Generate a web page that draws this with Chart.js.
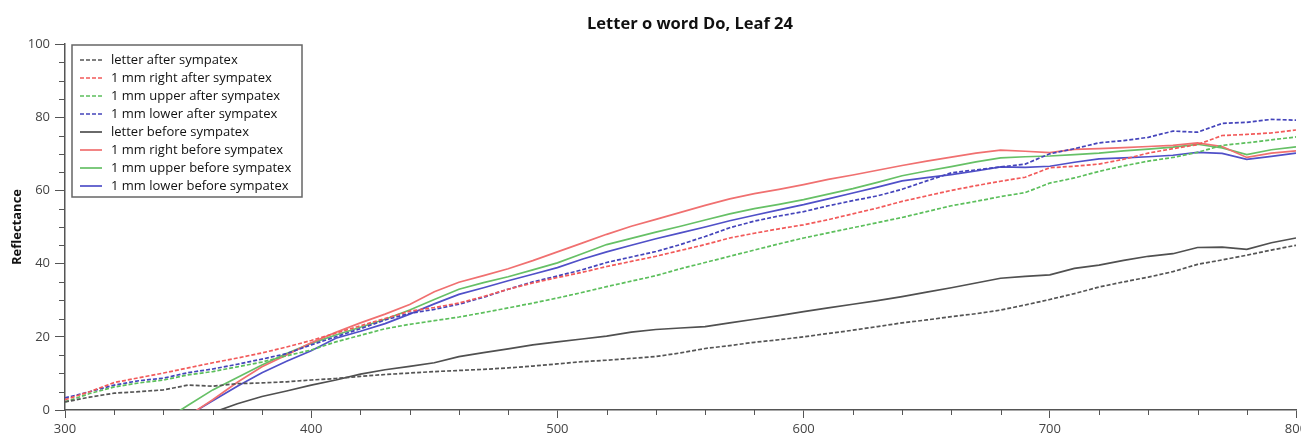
<!DOCTYPE html>
<html>
<head>
<meta charset="utf-8">
<script src="https://cdn.jsdelivr.net/npm/chart.js@4.4.0/dist/chart.umd.min.js"></script>
<style>
html, body { margin: 0; padding: 0; background: #fff; overflow: hidden; }
#caixa { position: relative; width: 1301px; height: 437px; overflow: hidden; }
#grafico { position: absolute; left: 0; top: 0; }
#titulo { position: absolute; top: 12px; left: 690px; transform: translateX(-50%);
  font: bold 16.5px/22px "Open Sans", sans-serif; color: #111; white-space: nowrap; }
</style>
</head>
<body>
<div id="caixa">
  <canvas id="grafico" width="1313" height="437"></canvas>
  <div id="titulo">Letter o word Do, Leaf 24</div>
</div>
<script>
// wavelength (nm)
var comprimento = [300,310,320,330,340,350,360,370,380,390,400,410,420,430,440,450,460,470,480,490,
  500,510,520,530,540,550,560,570,580,590,600,610,620,630,640,650,660,670,680,690,
  700,710,720,730,740,750,760,770,780,790,800];

var letraDepois = [2.2,3.5,4.6,5.0,5.5,6.8,6.5,7.2,7.4,7.7,8.2,8.6,9.2,9.7,10.1,10.5,10.8,11.1,11.5,12.0,
  12.6,13.2,13.6,14.1,14.6,15.6,16.8,17.6,18.5,19.2,20.0,20.9,21.8,22.8,23.8,24.6,25.5,26.3,27.3,28.7,
  30.2,31.8,33.6,35.0,36.3,37.8,39.8,41.0,42.3,43.7,45.0];
var direitaDepois = [2.8,5.0,7.5,8.8,10.1,11.5,12.9,14.2,15.6,17.2,19.0,21.0,23.0,25.0,27.0,28.0,29.2,31.0,33.0,34.7,
  36.2,37.6,39.2,40.6,42.0,43.6,45.2,47.0,48.3,49.5,50.6,52.0,53.6,55.2,57.0,58.5,60.0,61.3,62.5,63.6,
  66.2,66.6,67.2,68.5,70.2,71.4,72.5,75.0,75.3,75.7,76.5];
var acimaDepois = [2.2,4.5,6.3,7.4,8.2,9.6,10.5,11.8,13.1,14.8,16.4,18.6,20.4,22.2,23.4,24.4,25.4,26.6,27.9,29.2,
  30.6,32.1,33.7,35.2,36.7,38.6,40.3,42.0,43.7,45.4,47.0,48.4,49.8,51.2,52.6,54.2,55.8,57.0,58.3,59.4,
  62.0,63.4,65.2,66.7,68.0,69.0,70.4,72.3,73.0,73.8,74.6];
var abaixoDepois = [3.3,5.0,6.8,8.0,8.7,10.2,11.2,12.5,13.9,15.4,17.8,20.0,22.2,24.6,26.4,27.5,28.9,30.8,33.0,35.0,
  36.6,38.3,40.3,41.8,43.3,45.2,47.4,49.8,51.6,53.0,54.2,55.8,57.2,58.5,60.3,62.6,64.8,65.6,66.4,67.2,
  70.0,71.4,73.0,73.6,74.5,76.2,75.9,78.3,78.6,79.4,79.2];

var letraAntes = [null,null,null,null,null,-3.0,-0.7,1.7,3.7,5.2,6.8,8.2,9.8,11.0,11.9,12.9,14.6,15.7,16.7,17.8,
  18.6,19.4,20.2,21.3,22.0,22.4,22.8,23.8,24.8,25.8,26.9,27.9,28.9,29.9,31.0,32.2,33.4,34.7,36.0,36.5,
  36.9,38.7,39.6,40.9,42.0,42.7,44.4,44.5,43.9,45.7,47.0];
var direitaAntes = [null,null,null,null,-6.0,-1.6,2.8,7.6,11.8,15.0,18.4,21.2,23.8,26.2,28.8,32.3,34.9,36.7,38.6,40.8,
  43.2,45.6,48.0,50.2,52.1,54.0,55.9,57.7,59.1,60.3,61.6,63.0,64.2,65.5,66.8,68.0,69.1,70.2,71.0,70.7,
  70.3,71.2,71.4,71.7,72.0,72.3,73.0,72.0,69.0,70.2,70.8];
var acimaAntes = [null,null,null,null,-3.0,1.3,5.5,8.9,12.3,15.4,18.2,20.5,22.6,24.8,27.3,30.2,33.0,34.8,36.4,38.3,
  40.2,42.7,45.2,46.9,48.6,50.2,51.9,53.6,55.0,56.2,57.5,59.0,60.5,62.2,64.0,65.3,66.5,67.8,68.9,69.2,
  69.4,69.8,70.2,70.8,71.3,71.8,72.6,71.6,69.8,71.1,71.9];
var abaixoAntes = [null,null,null,null,-5.5,-1.5,2.5,6.5,10.2,13.3,16.2,19.6,21.5,23.6,26.2,29.0,31.6,33.4,35.3,37.1,
  38.9,41.2,43.2,45.0,46.8,48.4,50.0,51.7,53.2,54.7,56.1,57.7,59.3,60.9,62.6,63.5,64.3,65.3,66.4,66.3,
  66.6,67.7,68.6,68.9,69.2,69.6,70.4,70.1,68.5,69.3,70.2];

var rotulos = ["letter after sympatex","1 mm right after sympatex","1 mm upper after sympatex","1 mm lower after sympatex",
  "letter before sympatex","1 mm right before sympatex","1 mm upper before sympatex","1 mm lower before sympatex"];

function pontos(valores) {
  return comprimento.map(function(w, i) { return { x: w, y: valores[i] }; });
}

function serie(nome, valores, cor, tracejado) {
  return {
    label: nome,
    data: pontos(valores),
    borderColor: cor,
    borderWidth: 1.7,
    borderDash: tracejado ? [4, 2] : [],
    pointRadius: 0,
    fill: false,
    tension: 0
  };
}

// caixa da legenda, desenhada a mao no canto de cima
var legenda = {
  id: 'legenda',
  afterDatasetsDraw: function(chart) {
    var ctx = chart.ctx;
    var x0 = 72, y0 = 45, larg = 230, alt = 152;
    ctx.save();
    ctx.fillStyle = '#fff';
    ctx.fillRect(x0, y0, larg, alt);
    ctx.strokeStyle = '#666';
    ctx.lineWidth = 1.5;
    ctx.setLineDash([]);
    ctx.strokeRect(x0, y0, larg, alt);
    ctx.font = '13px "Open Sans", sans-serif';
    ctx.textBaseline = 'middle';
    chart.data.datasets.forEach(function(ds, i) {
      var y = y0 + 15 + i * 18;
      ctx.strokeStyle = ds.borderColor;
      ctx.lineWidth = ds.borderWidth;
      ctx.setLineDash(ds.borderDash);
      ctx.beginPath();
      ctx.moveTo(80, y);
      ctx.lineTo(102, y);
      ctx.stroke();
      ctx.setLineDash([]);
      ctx.fillStyle = '#111';
      ctx.fillText(ds.label, 111, y);
    });
    ctx.restore();
  }
};

// tracinhos menores nos eixos
var marcas = {
  id: 'marcas',
  afterDraw: function(chart) {
    var ctx = chart.ctx, xs = chart.scales.x, ys = chart.scales.y;
    ctx.save();
    ctx.strokeStyle = '#555';
    ctx.lineWidth = 1;
    ctx.beginPath();
    for (var v = 5; v < 100; v += 5) {
      if (v % 20 == 0) continue;
      var py = Math.round(ys.getPixelForValue(v)) + 0.5;
      ctx.moveTo(ys.right - 6, py);
      ctx.lineTo(ys.right, py);
    }
    for (var w = 320; w < 800; w += 20) {
      if (w % 100 == 0) continue;
      var px = Math.round(xs.getPixelForValue(w)) + 0.5;
      ctx.moveTo(px, xs.top);
      ctx.lineTo(px, xs.top + 5);
    }
    ctx.stroke();
    ctx.restore();
  }
};

var fonte = { family: '"Open Sans", sans-serif', size: 13 };

var ctx = document.getElementById('grafico').getContext('2d');
var grafico = new Chart(ctx, {
  type: 'line',
  data: {
    datasets: [
      serie(rotulos[0], letraDepois, '#555555', true),
      serie(rotulos[1], direitaDepois, '#f25a5a', true),
      serie(rotulos[2], acimaDepois, '#5cbf5c', true),
      serie(rotulos[3], abaixoDepois, '#4444bb', true),
      serie(rotulos[4], letraAntes, '#505050', false),
      serie(rotulos[5], direitaAntes, '#f07070', false),
      serie(rotulos[6], acimaAntes, '#66c066', false),
      serie(rotulos[7], abaixoAntes, '#5050c8', false)
    ]
  },
  options: {
    responsive: false,
    animation: false,
    devicePixelRatio: 1,
    layout: { padding: { left: 0, top: 44, right: 17, bottom: 0 } },
    plugins: {
      legend: { display: false },
      title: { display: false },
      tooltip: { enabled: false }
    },
    scales: {
      x: {
        type: 'linear',
        min: 300,
        max: 800,
        ticks: { stepSize: 100, color: '#444', font: fonte, padding: 3, maxRotation: 0 },
        grid: { drawOnChartArea: false, tickLength: 8, color: '#555', tickColor: '#555' },
        border: { display: true, color: '#555', width: 1.5 },
        afterFit: function(scale) { scale.height = 27; }
      },
      y: {
        min: 0,
        max: 100,
        ticks: { stepSize: 20, color: '#444', font: fonte, padding: 5 },
        grid: { drawOnChartArea: false, tickLength: 10, color: '#555', tickColor: '#555' },
        border: { display: true, color: '#555', width: 1.5 },
        title: { display: true, text: 'Reflectance', color: '#111',
          font: { family: '"Open Sans", sans-serif', size: 13, weight: 'bold' }, padding: { top: 9, bottom: 0 } },
        afterFit: function(scale) { scale.width = 65; }
      }
    }
  },
  plugins: [legenda, marcas]
});
</script>
</body>
</html>
